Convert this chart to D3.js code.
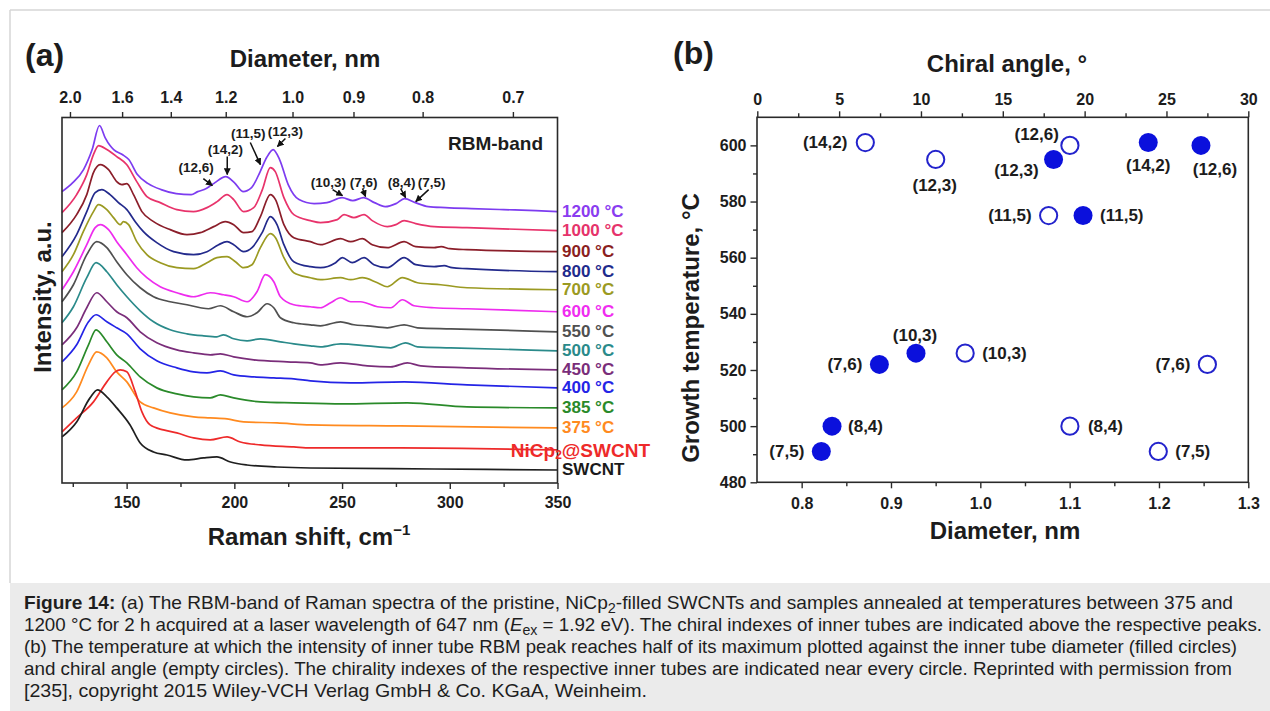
<!DOCTYPE html>
<html>
<head>
<meta charset="utf-8">
<script src="https://cdn.jsdelivr.net/npm/d3@7"></script>
<style>
  body { margin: 0; background: #fff; }
  svg { display: block; }
</style>
</head>
<body>
<svg id="fig" width="1270" height="711"></svg>
<script>
// ---------- Panel (a): RBM band of Raman spectra (offset for clarity) ----------
const shiftMajorTicks = [150, 200, 250, 300, 350];
const shiftMinorTicks = [125, 175, 225, 275, 325];
const diameterTickLabels = ["2.0", "1.6", "1.4", "1.2", "1.0", "0.9", "0.8", "0.7"];
const diameterTickShifts = [123.7, 147.9, 170.5, 196.0, 227.0, 255.3, 287.4, 329.3];

const sampleNames = ["1200 °C", "1000 °C", "900 °C", "800 °C", "700 °C", "600 °C", "550 °C",
                     "500 °C", "450 °C", "400 °C", "385 °C", "375 °C", "NiCp2@SWCNT", "SWCNT"];

// [Raman shift (cm-1), intensity (a.u., stacked)]
const spec1200 = [[120,291],[125,300],[130,313],[134,333],[137.4,357],[140,345],[142.3,337],[144,333],[148,328],[151,323],[155,308],[160,299],[166,293],[173,289],[180,288],[183,291],[186,293],[189,297],[191,300],[196,306],[200,300],[204,291],[208,295],[212,311],[215,325],[218,333],[221,323],[225,298],[230,283],[237,279],[243,280],[250,285],[255,282],[260,285],[265,280],[270,276],[275,279],[279,284],[284,280],[290,276],[298,275],[310,274],[325,273],[340,272],[350,271]];
const spec1000 = [[120,270],[126.8,288],[131.5,308],[134.6,328],[137,337],[140.8,333],[145.4,326],[150,318],[154.7,301],[159.4,286],[165.6,280],[173.3,273],[181,271],[187.3,275],[192,281],[196.6,288],[199.7,283],[204.3,271],[209,275],[213,293],[216.7,315],[219,311],[223,285],[227.6,268],[235.3,262],[240,260],[247.8,263],[250.9,268],[255.5,265],[260.2,268],[264,262],[271,256],[275,258],[278.8,262],[284.2,259],[292.7,256],[308,255],[350,252]];
const spec900 = [[120,250],[126.8,268],[131.5,288],[134.6,310],[137.7,318],[141.6,313],[145.4,301],[147.8,298],[150.1,299],[153.2,288],[157.1,271],[162.5,261],[170.2,253],[178,248],[184.2,250],[190.4,256],[195.8,261],[199.7,258],[204.3,250],[208.2,251],[212.1,266],[216.7,288],[219.1,283],[223,258],[227.6,245],[235.3,241],[240,238],[249.3,244],[254,241],[259.4,244],[264,238],[271,235],[278.8,241],[284.2,236],[292.7,235],[296,236],[300,234],[308,233],[350,231]];
const spec800 = [[120,226],[126.8,248],[131.5,271],[135.4,290],[138.5,293],[142.3,288],[146.2,280],[150.1,273],[154,261],[157.8,251],[164,240],[171.8,231],[181.1,228],[187.3,231],[192.7,238],[196.6,241],[199.7,238],[204.3,231],[208.2,235],[212.9,250],[216.7,266],[219.8,258],[223,238],[227.6,221],[235.3,216],[240,215],[247,220],[250.1,225],[254.7,220],[260.2,225],[264.8,218],[271,215],[278.8,225],[284.2,218],[292.7,216],[297.4,217],[301,215],[308,214],[350,211]];
const spec700 = [[120,211],[125.3,228],[129.9,251],[134.6,271],[136.9,278],[140.8,273],[143.9,265],[147,258],[148.5,261],[150.9,258],[154.7,241],[159.4,228],[165.6,220],[173.3,215],[181.1,214],[187.3,220],[191.9,225],[196.6,226],[200.5,221],[204.3,215],[208.2,218],[212.1,235],[216.7,249],[219.1,245],[223,225],[227.6,210],[235.3,205],[240,203],[249.3,205],[254,203],[259.4,205],[266.4,200],[271,196],[278,205],[285,200],[295.8,198],[308,195],[350,193]];
const spec600 = [[120,193],[125.3,211],[131.5,238],[135.4,255],[137.7,258],[141.6,253],[145.4,241],[150.1,228],[154.7,215],[159.4,205],[165.6,196],[173.3,190],[181.1,186],[188.8,190],[195,188],[199.7,186],[205.9,181],[210.5,191],[214.4,208],[218.3,201],[221.4,186],[227.6,178],[235.3,176],[240,175],[244.7,180],[249.3,185],[254,181],[258.6,181],[266.4,176],[272.6,175],[278,183],[283.4,177],[292.7,175],[308,174],[350,171]];
const spec550 = [[120,181],[125.3,198],[131.5,228],[136.1,241],[140.8,235],[145.4,221],[150.1,208],[156.3,195],[162.5,186],[170.2,181],[178,178],[184.2,175],[188,174],[193.5,177],[199.7,171],[205.9,166],[210.5,170],[215.2,179],[218.3,175],[221.4,165],[227.6,160],[235.3,158],[240,157],[249.3,161],[255.5,158],[261.7,157],[271,155],[278.8,158],[285,155],[300.5,154],[350,151]];
const spec500 = [[120,160],[125.3,176],[131.5,205],[135.8,220],[140.8,211],[145.4,198],[150.1,186],[156.3,172],[162.5,161],[170.2,153],[178,149],[185.7,147],[191.9,146],[195,148],[199.7,144],[205.9,142],[212.1,144],[221.4,141],[227.6,139],[235.3,137],[240,136],[249.3,139],[261.7,137],[272.6,135],[279.5,140],[285,136],[300.5,135],[350,132]];
const spec450 = [[120,138],[126.8,155],[131.5,175],[136.1,190],[140.8,181],[145.4,171],[150.1,165],[156.3,151],[164,140],[173.3,133],[181.1,130],[188.8,128],[193.5,129],[199.7,126],[209,123],[224.5,121],[235.3,120],[240,118],[249.3,120],[261.7,117],[272.6,116],[280.3,120],[286.5,117],[308,115],[350,113]];
const spec400 = [[120,121],[126.8,138],[132.3,161],[135.8,168],[140.8,161],[145.4,155],[150.1,149],[156.3,134],[164,122],[173.3,115],[181.1,111],[187.3,110],[193.5,112],[199.7,108],[209,106],[218.3,105],[227.6,104],[235.3,102],[254,100],[278.8,101],[308,98],[350,95]];
const spec385 = [[120,93],[126.8,111],[132.3,138],[135.8,153],[140.8,141],[145.4,128],[150.1,120],[156.3,106],[164,95],[173.3,89],[181.1,86],[188.8,85],[193.5,88],[199.7,85],[212.1,81],[227.6,80],[250,79],[280.3,80],[308,76],[350,75]];
const spec375 = [[120,75],[126.8,91],[132.3,118],[136.1,131],[140.8,125],[145.4,111],[150.1,101],[156.3,81],[162.5,75],[170.2,70],[181.1,66],[188.8,65],[196.6,64],[204.3,61],[219.8,60],[235.3,58],[277.2,57],[350,55]];
const specNiCp2 = [[120,51],[126.8,65],[134.6,81],[140.8,101],[144.7,111],[147,113],[150.1,111],[154,91],[157.1,71],[160.9,58],[167.1,53],[173.3,50],[181.1,45],[188.8,43],[196.6,46],[202.8,41],[212.1,38],[227.6,36],[235.3,35],[277.2,35],[350,33]];
const specSWCNT = [[120,46],[126.8,61],[133,85],[136.5,93],[140.8,86],[145.4,75],[151.6,58],[156.3,40],[162.5,31],[168.7,28],[178,23],[185.7,25],[191.9,26],[198.2,21],[205.9,18],[219.8,16],[235.3,15],[292.7,14],[350,13]];

const spectra = [spec1200, spec1000, spec900, spec800, spec700, spec600, spec550,
                 spec500, spec450, spec400, spec385, spec375, specNiCp2, specSWCNT];

// chiral indexes marked above the peaks
const peakIndexes = ["(12,6)", "(14,2)", "(11,5)", "(12,3)", "(10,3)", "(7,6)", "(8,4)", "(7,5)"];

// ---------- Panel (b): growth temperature of inner tubes ----------
const chiralities   = ["(7,5)", "(8,4)", "(7,6)", "(10,3)", "(11,5)", "(12,3)", "(14,2)", "(12,6)"];
const growthTemp    = [491, 500, 522, 526, 575, 595, 601, 600];
const innerDiameter = [0.822, 0.834, 0.887, 0.928, 1.115, 1.082, 1.188, 1.247];
const chiralAngle   = [24.5, 19.1, 27.5, 12.7, 17.8, 10.9, 6.6, 19.1];
const tempTicks = [480, 500, 520, 540, 560, 580, 600];
const tempMinor = [490, 510, 530, 550, 570, 590];
const diamTicks = [0.8, 0.9, 1.0, 1.1, 1.2, 1.3];
const diamMinor = [0.85, 0.95, 1.05, 1.15, 1.25];
const angleTicks = [0, 5, 10, 15, 20, 25, 30];
const angleMinor = [2.5, 7.5, 12.5, 17.5, 22.5, 27.5];

// ---------- styles & layout ----------
const FONT = '"Liberation Sans", Arial, Helvetica, sans-serif';
const INK = "#1c1c1c";
const lineColors = ["#7d3cf0", "#e8336b", "#8b1e2a", "#232a8c", "#9b9a22", "#ee2cee", "#505050",
                    "#2a8a8a", "#7a2d7a", "#2424e6", "#2a8a2a", "#ff8a1f", "#ee2a2a", "#1f1f1f"];
const labelColors = ["#8a3cf0", "#e6336b", "#8b1e1e", "#1e2a8c", "#9b9a22", "#f02cf0", "#505050",
                     "#2a8a8a", "#7a2d7a", "#2424e6", "#2a8a2a", "#ff8a1f", "#ee2a2a", "#1a1a1a"];

// arrow annotation geometry in data units: tip, tail, label centre
const peakNotes = [
  {tip: [189.8, 297], tail: [185.6, 304], at: [182.3, 315]},
  {tip: [196.7, 308], tail: [196.7, 326], at: [195.8, 333]},
  {tip: [212.1, 318], tail: [207.4, 340], at: [206.5, 349]},
  {tip: [220.0, 336], tail: [223.7, 344], at: [223.7, 351]},
  {tip: [250.2, 287], tail: [245.6, 293], at: [243.7, 300]},
  {tip: [260.9, 286], tail: [259.5, 294], at: [260.0, 300]},
  {tip: [279.5, 285], tail: [277.2, 294], at: [277.7, 300]},
  {tip: [284.2, 281], tail: [290.2, 293], at: [291.6, 300]}
];

// label placement around the circles: [anchor, dx, dy]
const filledLabelPos = [["end",-17,0],["start",16,0],["end",-17,0],["middle",-1,-18],
                        ["start",17,0],["end",-15,11],["middle",0,23],["middle",14,24]];
const emptyLabelPos  = [["start",17,0],["start",18,0],["end",-17,0],["start",17,0],
                        ["end",-17,0],["middle",-1,26],["end",-18,0],["end",-11,-11]];

const svg = d3.select("#fig");

// figure border and caption band
svg.append("line").attr("x1", 10).attr("x2", 1270).attr("y1", 10).attr("y2", 10)
   .attr("stroke", "#d6d6d6").attr("stroke-width", 1.5);
svg.append("line").attr("x1", 10).attr("x2", 10).attr("y1", 10).attr("y2", 583)
   .attr("stroke", "#d6d6d6").attr("stroke-width", 1.5);
svg.append("rect").attr("x", 10).attr("y", 583).attr("width", 1260).attr("height", 128)
   .attr("fill", "#ebebeb");

function styleAxis(g, fs) {
  g.select(".domain").remove();
  g.selectAll(".tick line").attr("stroke", "#2a2a2a").attr("stroke-width", 1.4);
  g.selectAll(".tick text").attr("fill", INK).attr("font-size", fs)
   .attr("font-weight", "bold").attr("font-family", FONT);
}

function boldText(x, y, txt, size, opts = {}) {
  const t = svg.append("text").attr("x", x).attr("y", y).text(txt)
    .attr("font-family", FONT).attr("font-weight", "bold").attr("font-size", size)
    .attr("fill", opts.fill || INK).attr("text-anchor", opts.anchor || "middle");
  if (opts.rotate) t.attr("transform", `rotate(-90,${x},${y})`);
  if (opts.central) t.attr("dominant-baseline", "central");
  return t;
}

// ================= Panel (a) =================
const A = {left: 62, right: 557.5, top: 117.5, bottom: 483};
const xA = d3.scaleLinear().domain([120, 350]).range([A.left, A.right]);
const yA = d3.scaleLinear().domain([0, 365]).range([A.bottom, A.top]);

const gA = svg.append("g");
gA.append("g").attr("transform", `translate(0,${A.bottom})`)
  .call(d3.axisBottom(xA).tickValues(shiftMajorTicks).tickSize(6).tickPadding(8).tickFormat(d3.format("d")))
  .call(g => styleAxis(g, 16));
gA.append("g").attr("transform", `translate(0,${A.bottom})`)
  .call(d3.axisBottom(xA).tickValues(shiftMinorTicks).tickSize(4).tickFormat(""))
  .call(g => styleAxis(g, 16));
gA.append("g").attr("transform", `translate(0,${A.top})`)
  .call(d3.axisTop(xA).tickValues(diameterTickShifts).tickSize(5.5).tickPadding(9)
        .tickFormat((d, i) => diameterTickLabels[i]))
  .call(g => styleAxis(g, 16));

const line = d3.line().x(d => xA(d[0])).y(d => yA(d[1])).curve(d3.curveMonotoneX);
gA.selectAll("path.spec").data(spectra).join("path")
  .attr("class", "spec").attr("d", line).attr("fill", "none")
  .attr("stroke", (d, i) => lineColors[i]).attr("stroke-width", 1.7)
  .attr("stroke-linejoin", "round");

gA.append("rect").attr("x", A.left).attr("y", A.top)
  .attr("width", A.right - A.left).attr("height", A.bottom - A.top)
  .attr("fill", "none").attr("stroke", "#2a2a2a").attr("stroke-width", 1.6);

// sample labels at the right end of each trace
spectra.forEach((s, i) => {
  const yEnd = yA(s[s.length - 1][1]);
  if (sampleNames[i] === "NiCp2@SWCNT") {
    const t = boldText(650, yEnd, "", 19, {fill: labelColors[i], anchor: "end", central: true});
    t.append("tspan").text("NiCp");
    t.append("tspan").text("2").attr("font-size", 12).attr("dy", 5);
    t.append("tspan").text("@SWCNT").attr("dy", -5);
  } else {
    boldText(562, yEnd, sampleNames[i], 17, {fill: labelColors[i], anchor: "start", central: true});
  }
});

// chiral index arrows
const defs = svg.append("defs");
defs.append("marker").attr("id", "arrowHead").attr("viewBox", "0 0 10 10")
  .attr("refX", 9).attr("refY", 5).attr("markerWidth", 7).attr("markerHeight", 7)
  .attr("markerUnits", "userSpaceOnUse").attr("orient", "auto")
  .append("path").attr("d", "M0,0 L10,5 L0,10 Z").attr("fill", "#111");

peakNotes.forEach((n, i) => {
  gA.append("line")
    .attr("x1", xA(n.tail[0])).attr("y1", yA(n.tail[1]))
    .attr("x2", xA(n.tip[0])).attr("y2", yA(n.tip[1]))
    .attr("stroke", "#111").attr("stroke-width", 1.5).attr("marker-end", "url(#arrowHead)");
  boldText(xA(n.at[0]), yA(n.at[1]), peakIndexes[i], 13.5, {central: true});
});

boldText(543, 150, "RBM-band", 19, {anchor: "end"});
boldText(25, 66, "(a)", 32, {anchor: "start"});
boldText(305, 67, "Diameter, nm", 24);
const rs = boldText(309, 545, "Raman shift, cm", 24);
rs.append("tspan").text("\u22121").attr("font-size", 15).attr("dy", -10);
boldText(42, 297, "Intensity, a.u.", 24, {rotate: true, central: true});

// ================= Panel (b) =================
const B = {left: 757, right: 1248.3, top: 117.3, bottom: 482.3};
const xB = d3.scaleLinear().domain([0.75, 1.3]).range([B.left, B.right]);
const xAngle = d3.scaleLinear().domain([0, 30]).range([757.3, B.right]);
const yB = d3.scaleLinear().domain([480, 610]).range([B.bottom, B.top]);

const gB = svg.append("g");
gB.append("g").attr("transform", `translate(0,${B.bottom})`)
  .call(d3.axisBottom(xB).tickValues(diamTicks).tickSize(6).tickPadding(9).tickFormat(d3.format(".1f")))
  .call(g => styleAxis(g, 16));
gB.append("g").attr("transform", `translate(0,${B.bottom})`)
  .call(d3.axisBottom(xB).tickValues(diamMinor).tickSize(4).tickFormat(""))
  .call(g => styleAxis(g, 16));
gB.append("g").attr("transform", `translate(0,${B.top})`)
  .call(d3.axisTop(xAngle).tickValues(angleTicks).tickSize(6).tickPadding(6).tickFormat(d3.format("d")))
  .call(g => styleAxis(g, 16));
gB.append("g").attr("transform", `translate(0,${B.top})`)
  .call(d3.axisTop(xAngle).tickValues(angleMinor).tickSize(4).tickFormat(""))
  .call(g => styleAxis(g, 16));
gB.append("g").attr("transform", `translate(${B.left},0)`)
  .call(d3.axisLeft(yB).tickValues(tempTicks).tickSize(6.5).tickPadding(4).tickFormat(d3.format("d")))
  .call(g => styleAxis(g, 16));
gB.append("g").attr("transform", `translate(${B.left},0)`)
  .call(d3.axisLeft(yB).tickValues(tempMinor).tickSize(4).tickFormat(""))
  .call(g => styleAxis(g, 16));

gB.append("rect").attr("x", B.left).attr("y", B.top)
  .attr("width", B.right - B.left).attr("height", B.bottom - B.top)
  .attr("fill", "none").attr("stroke", "#2a2a2a").attr("stroke-width", 1.6);

const idx = d3.range(chiralities.length);
// filled circles: against diameter
gB.selectAll("circle.filled").data(idx).join("circle").attr("class", "filled")
  .attr("cx", i => xB(innerDiameter[i])).attr("cy", i => yB(growthTemp[i]))
  .attr("r", 9.5).attr("fill", "#0b10dc");
// empty circles: against chiral angle
gB.selectAll("circle.empty").data(idx).join("circle").attr("class", "empty")
  .attr("cx", i => xAngle(chiralAngle[i])).attr("cy", i => yB(growthTemp[i]))
  .attr("r", 8.6).attr("fill", "none").attr("stroke", "#2323cc").attr("stroke-width", 2);

idx.forEach(i => {
  const [fa, fdx, fdy] = filledLabelPos[i];
  boldText(xB(innerDiameter[i]) + fdx, yB(growthTemp[i]) + fdy, chiralities[i], 17, {anchor: fa, central: true});
  const [ea, edx, edy] = emptyLabelPos[i];
  boldText(xAngle(chiralAngle[i]) + edx, yB(growthTemp[i]) + edy, chiralities[i], 17, {anchor: ea, central: true});
});

boldText(673, 64, "(b)", 32, {anchor: "start"});
boldText(1007, 72, "Chiral angle, °", 24);
boldText(1005, 539, "Diameter, nm", 24);
boldText(690, 328, "Growth temperature, °C", 24, {rotate: true, central: true});

// ================= Caption =================
const cap = svg.append("g").attr("font-family", FONT).attr("font-size", 18.5).attr("fill", "#1e1e1e");
const capX = 24, capY0 = 609, capDY = 22;
// set widths of the caption lines
const capWidths = [1209, 1238, 1213, 1208, 623];
function capLine(k) {
  return cap.append("text").attr("x", capX).attr("y", capY0 + k * capDY)
    .attr("textLength", capWidths[k]).attr("lengthAdjust", "spacingAndGlyphs");
}

let l1 = capLine(0);
l1.append("tspan").text("Figure 14:").attr("font-weight", "bold");
l1.append("tspan").text(" (a) The RBM-band of Raman spectra of the pristine, NiCp");
l1.append("tspan").text("2").attr("font-size", 14).attr("dy", 4);
l1.append("tspan").text("-filled SWCNTs and samples annealed at temperatures between 375 and").attr("dy", -4);

let l2 = capLine(1);
l2.append("tspan").text("1200 °C for 2 h acquired at a laser wavelength of 647 nm (");
l2.append("tspan").text("E").attr("font-style", "italic");
l2.append("tspan").text("ex").attr("font-size", 14).attr("dy", 4);
l2.append("tspan").text(" = 1.92 eV). The chiral indexes of inner tubes are indicated above the respective peaks.").attr("dy", -4);

capLine(2).text("(b) The temperature at which the intensity of inner tube RBM peak reaches half of its maximum plotted against the inner tube diameter (filled circles)");
capLine(3).text("and chiral angle (empty circles). The chirality indexes of the respective inner tubes are indicated near every circle. Reprinted with permission from");
capLine(4).text("[235], copyright 2015 Wiley-VCH Verlag GmbH & Co. KGaA, Weinheim.");
</script>
</body>
</html>
